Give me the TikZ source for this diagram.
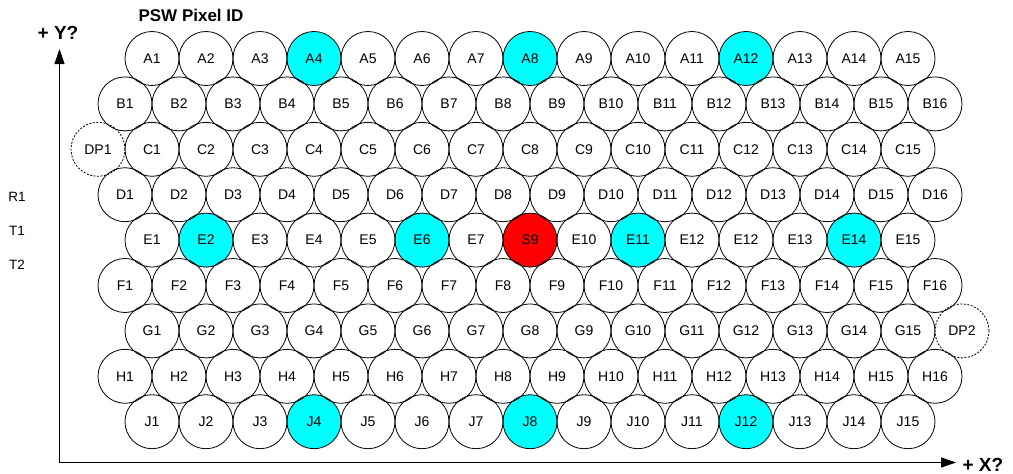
\documentclass[tikz,border=0pt]{standalone}
\usepackage{fontspec}
\setmainfont{Liberation Sans}
\usetikzlibrary{arrows.meta}
\pgfdeclarelayer{bg}
\pgfsetlayers{bg,main}
\definecolor{pixcyan}{RGB}{0,255,255}
\definecolor{pixred}{RGB}{255,0,0}
\begin{document}
\begin{tikzpicture}[x=1pt,y=-1pt,
  pix/.style={circle,draw,line width=0.8pt,minimum size=54pt,inner sep=0pt,font=\fontsize{14}{15}\selectfont},
  dpix/.style={pix,dash pattern=on 2pt off 1.5pt},
  axis/.style={line width=1pt,-{Triangle[length=15pt,width=10pt]}},
  biglab/.style={font=\fontsize{19}{21}\selectfont\bfseries},
  titlelab/.style={font=\fontsize{17}{19}\selectfont\bfseries},
  sidelab/.style={font=\fontsize{13.5}{14}\selectfont}]
\useasboundingbox (0,0) rectangle (1013,474);
% rows
\foreach \r/\xo/\n/\i in {A/152/15/0,B/125/16/1,C/152/15/2,D/125/16/3,F/125/16/5,G/152/15/6,H/125/16/7,J/152/15/8}
  \foreach \k in {1,...,\n}
    \node[pix] (\r\k) at ({\xo+54*(\k-1)},{58.5+45.4*\i}) {\r\k};
\foreach \lab [count=\k] in {E1,E2,E3,E4,E5,E6,E7,S9,E10,E11,E12,E12,E13,E14,E15}
  \node[pix] (E\k) at ({152+54*(\k-1)},{58.5+45.4*4}) {\lab};
\node[dpix] (DP1) at (98,{58.5+45.4*2}) {DP1};
\node[dpix] (DP2) at (962,{58.5+45.4*6}) {DP2};
\begin{pgfonlayer}{bg}
  \foreach \p in {A4,A8,A12,E2,E6,E10,E14,J4,J8,J12}
    \fill[pixcyan] (\p.center) circle (27pt);
  \fill[pixred] (E8.center) circle (27pt);
\end{pgfonlayer}
% axes
\coordinate (origin) at (59.5,462.5);
\coordinate (ytip) at (59.5,49);
\coordinate (xtip) at (956,462.5);
\draw[axis] (origin) -- (ytip);
\draw[axis] (origin) -- (xtip);
\node[biglab] (ylab) at (58,33) {+ Y?};
\node[biglab,anchor=west] (xlab) at (959,465) {+ X?};
\node[titlelab] (title) at (191,15) {PSW Pixel ID};
\node[sidelab] (R1) at (17,197) {R1};
\node[sidelab] (T1) at (17,231) {T1};
\node[sidelab] (T2) at (17,265) {T2};
\end{tikzpicture}
\end{document}
